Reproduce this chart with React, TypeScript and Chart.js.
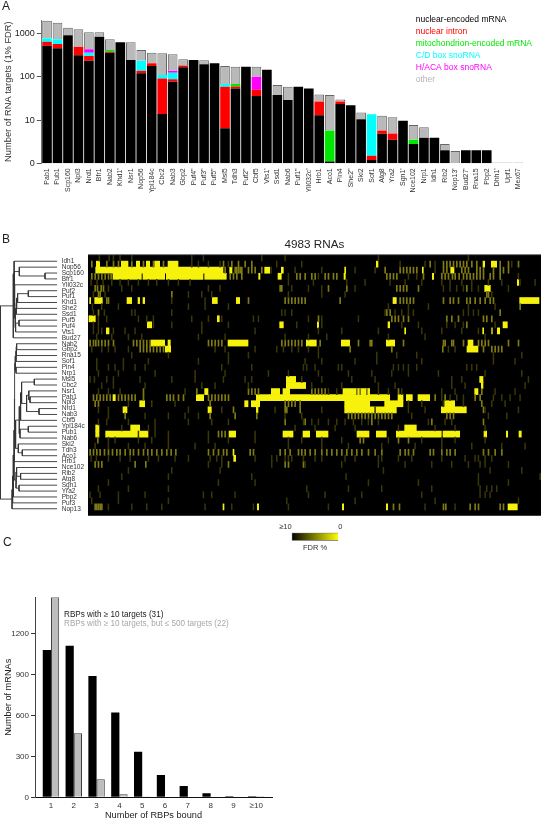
import React, { useEffect, useRef } from "react";
import { Chart, registerables } from "chart.js";

Chart.register(...registerables);

const SANS = "'Liberation Sans', Arial, sans-serif";

// ---------- Panel A ----------
const rbpNames = ["Pab1","Pub1","Scp160","Npl3","Nrd1","Bfr1","Nab2","Khd1'","Nsr1","Nop56","Ypl184c","Cbc2","Nab3","Gbp2","Puf4''","Puf3''","Puf5''","Msl5","Tdh3","Puf2''","Cbf5","Vts1'","Ssd1","Nab6","Puf1''","Yll032c'","Hrb1","Aco1","Pin4","She2''","Ski2","Sof1","Atg8","Yra2","Sgn1'","Nce102","Nrp1","Idh1","Rib2","Nop13'","Bud27'","Rna15","Pbp2","Dhh1'","Upf1","Mex67"];
const mrnaTargets = [526,458,913,316,237,851,363,630,246,121,178,13.8,77,166,246,195,205,6.5,54,172,36,145,38,29,59,54,13,1.1,23.6,22,10.4,1.2,4.8,3.5,9.7,2.8,3.9,3.9,2,null,2,2,2,null,null,null];
const intronTargets = [126,117,null,184,68,null,19,null,null,18,27,78,11,16,null,null,null,52.5,6,null,14,null,null,null,null,null,14,null,3.4,null,null,0.3,0.9,1.4,null,null,null,null,null,null,null,null,null,null,null,null];
const mitoTargets = [null,null,null,null,null,null,35,null,null,null,null,null,null,null,null,null,null,null,8,null,null,null,null,null,null,null,null,4.6,null,null,null,null,null,null,null,0.7,null,null,null,null,null,null,null,null,null,null];
const cdBoxTargets = [124,163,null,null,58,null,null,null,null,98,null,18,37,null,null,null,null,9.5,null,null,null,null,null,null,null,null,null,null,null,null,null,12.1,null,null,null,null,null,null,null,null,null,null,null,null,null,null];
const hacaBoxTargets = [null,null,null,null,70,null,null,null,null,null,null,null,14,null,null,null,null,null,null,null,50,null,null,null,null,null,null,null,null,null,null,null,null,null,null,null,null,null,null,null,null,null,null,null,null,null];
const otherTargets = [1220,1055,461,758,637,219,321,null,384,180,158,240,192,72,null,46,null,110,104,null,72,null,27,30,null,null,12,32.3,3,null,4.6,null,6.9,6.7,null,4.2,2.9,null,0.8,1.93,null,null,null,1.05,1.05,1.05];
const yTicksA = [1, 10, 100, 1000];
const legendNames = ["nuclear-encoded mRNA","nuclear intron","mitochondrion-encoded mRNA","C/D box snoRNA","H/ACA box snoRNA","other"];
const legendColors = ["#000000","#ff0000","#00e800","#00ffff","#ff00ff","#b4b4b4"];

// ---------- Panel B ----------
const heatRows = ["Idh1","Nop56","Scp160","Bfr1","Yll032c","Puf2","Puf1","Khd1","She2","Ssd1","Puf5","Puf4","Vts1","Bud27","Nab2","Gbp2","Rna15","Sof1","Pin4","Nrp1","Msl5","Cbc2","Nsr1","Pab1","Npl3","Nrd1","Nab3","Cbf5","Ypl184c","Pub1","Nab6","Ski2","Tdh3","Aco1","Hrb1","Nce102","Rib2","Atg8","Sgn1","Yra2","Pbp2","Puf3","Nop13"];
const binCount = 1359;

// [row, start, end, start, end, ...] in bins of the sorted RNA list
const brightRuns: number[][] = [
  [1,25,35,100,120,145,155,175,185,200,215,240,270,865,870,1185,1190,1210,1226],
  [2,23,405,425,432,530,545,580,586,770,773,1003,1006,1088,1098],
  [3,75,160,165,230,235,345,350,415,512,516,570,580,768,772,1033,1037],
  [4,1288,1292],
  [5,1190,1207],
  [7,5,8,20,43,117,131,150,155,165,170,373,388,445,455,915,925,1295,1353],
  [10,3,22,388,394],
  [11,178,191,575,586,688,692,900,905,1245,1258],
  [12,55,63,950,953,1184,1187,1211,1213,1228,1235],
  [14,190,230,240,247,420,480,655,685,760,785,895,920,1140,1155],
  [15,232,248,1137,1170],
  [20,595,623,1175,1185],
  [21,595,653,1180,1185],
  [22,350,360,550,575,585,605,765,845,1160,1170],
  [23,75,82,325,347,505,545,545,905,930,945,955,973,990,1025],
  [24,155,170,470,480,490,515,770,845,890,945,1070,1100],
  [25,105,117,360,370,505,510,770,925,1060,1135],
  [28,23,33,128,155,950,985],
  [29,23,33,53,180,423,443,585,615,645,665,685,720,807,843,865,895,925,1060,1065,1115,1188,1196,1255,1259,1293,1300],
  [32,435,438],
  [33,437,443],
  [41,405,408,508,512,763,767,895,899,1260,1288],
];

// [row, bin, bin, ...]
const midTicks: number[][] = [
  [1,10,55,75,90,130,165,195,225,405,430,450,470,490,1025,1065,1075,1085,1095,1105,1115,1125,1135,1150,1165,1235,1260,1290],
  [2,410,440,445,450,455,460,480,490,500,520,890,935,945,955,965,975,985,1065,1075,1120,1130,1140,1165,1175,1185,1215,1235,1245,1260],
  [3,10,20,30,40,50,60,68,425,435,445,460,625,635,650,670,680,710,720,735,745,895,905,915,925,1005,1060,1070,1080,1092,1100,1112,1125,1135,1145,1155,1165,1175,1185,1205,1215,1235],
  [5,20,27,38,45,575,580,720,775,925,935,945,955,990,1135],
  [6,30,35,250,1195,1200],
  [7,55,60,480,590,600,610,620,630,640,650,755,935,945,955,965,975,1065,1085,1095,1110,1135,1145,1160,1175,1190,1205,1215],
  [8,1295],
  [9,30,895,905,1235],
  [10,690,910,920,930,945,960,1075,1090,1110,1185,1195,1210],
  [11,1135],
  [14,5,15,22,30,40,50,60,75,135,145,155,165,175,185,360,370,380,390,400,580,590,600,610,620,630,640,695,810,845,850,945,1065,1070,1090,1095,1125,1170,1180,1190,1200,1260,1290],
  [15,155,165,175,185,195,205,215,225,785,910,1063,1185,1210,1220,1230,1240],
  [22,165,325,480,490,500,510,670,680,690,700,710,805,815,835,930,1180],
  [23,15,25,35,45,55,65,90,100,110,120,130,140,165,235,245,255,270,285,360,370,380,390,400,410,420,1040,1070,1160,1175],
  [24,20,30,365,590,600,610,620,635,1180],
  [25,435,595,635,590,1185],
  [26,110,365,440,505,780,790,800,810,820,830,840,850,860,870,880,890,900,910,1075,1085,1095],
  [27,590,650,850,1030,1185],
  [29,390,400,410],
  [30,28,815,825,930,960],
  [32,5,15,25,35,48,60,72,85,95,110,125,135,150,165,178,190,205,220,235,248,262,360,375,390,405,415,485,495,575,590,605,630,640,650,665,680,700,715,730,745,760,775,790,805,820,840,860,880,935,950,960,975,1025,1035,1060,1075,1085,1100,1185,1200,1220,1240],
  [34,20,30,40,140,172,420,590,600,645],
  [41,20,25,30,35,40,915,933,1065,1072,1145,1160,1170,1235,1245],
];

const dimTicks: number[][] = [
  [0,33,62,75,95,130,310,345,520,590,870,1140],
  [1,310,330,360,395,420,1010,1040,1270,565,640,935],
  [2,548,620,700,800,860,1040],
  [3,600,690,960,985,1290],
  [4,8,26,44,70,95,120,150,180,205,240,270,305,600,675,775,830,905,950,1000,1060,1085,1120,1150,1200,1240,1295,1340],
  [5,60,100,130,360,395,610,660,700,800,1065,1085,1105,1125,1150,1170,1260],
  [6,15,50,300,340,370,600,700,770,1210],
  [7,250,350],
  [8,12,40,90,300,350,420,900,960,1020,1140,1220],
  [9,15,48,130,140,250,580,590,610,890,920,940,960,975,1125,1140,1155,1170],
  [10,30,55,150,175,195,310,360,400,495,510,660,700,810],
  [11,15,30,195,250,340,420,625,700,940,990,1075,1100,1125,1220],
  [12,15,30,40,75,110,140,340,500,690,760,870,1000,1060,1120,1170],
  [13,25,70,120,160,330,410,590,660,715,900,1010,1190],
  [15,10,40,60,80,120,380,410,500,565,585,610,630,660,690,1080,1100],
  [16,130,240,420,480,690,865,925,985,1215,1300],
  [17,25,105,180,330,420,650,700,800,865,1000,1215,1280],
  [18,25,60,80,105,140,170,400,490,645,655,680,750,760,915,930,945,960,985,1135,1150,1165],
  [19,30,90,200,320,410,540,600,690,780,850,910,960,1050,1190,1300],
  [20,5,18,55,75,155,250,320,405,470,490,640,700,790,860,1090,1120,1320],
  [21,40,75,170,340,380,480,670,760,870,920,1090,1130,1310],
  [22,30,60,95,290,720,745,870,900,940,1060,1100,1220,1280],
  [23,1060,1085,1105,1125,1215,1240,1265,1295],
  [24,120,190,260,960,1000,1065,1125,1210,1250],
  [25,30,60,300,400,560,700,860,960,1010,1190,1290],
  [26,60,170,240,290,330,590,640,970,1200,1255],
  [27,30,55,120,200,300,370,420,645,670,690,720,745,770,795,820,840,870,1020,1070,1090],
  [28,100,180,200,620,680,740,800,930,1040,1100,1190],
  [29,150,200,240,360,500],
  [30,60,80,150,190,240,360,420,500,600,640,700,760,900,1000,1060,1100,1190],
  [31,20,60,120,170,240,320,380,600,700,780,880,980,1060,1150,1240,1310],
  [33,8,24,60,95,125,180,210,260,300,365,385,400,500,550,565,590,600,610,645,680,700,770,800,870,880,930,970,1060,1130,1160,1170,1190,1210],
  [34,360,400,550,650,760,870,950,1030,1090,1140,1175,1190,1260],
  [35,120,250,395,885,1205,1300],
  [36,100,240,490,773,1170,1355],
  [37,60,390,500,840,990,1170,1260],
  [38,30,120,240,655,780,880,1030,1175,1195,1210,1225],
  [39,5,35,90,170,345,370,440,660,710,820,1000,1175,1190,1205],
  [40,10,90,240,595,800,1040,1290],
  [41,60,130,175,220,350,430,495,600,720,1010,1100],
];

const levelColors = ["#3a3707", "#7f7a12", "#f6f20c"];

// Dendrogram: a child is a row name or the index of an earlier merge
const dendroLeft: (string | number)[] = ["Scp160","Nop56","Puf2",2,"Puf5",4,3,6,7,"Yll032c",1,"Idh1",11,"Nab2",13,14,"Pin4",15,"Msl5","Pab1","Nsr1","Nrd1",20,18,23,"Ypl184c",25,"Tdh3",24,"Ski2",28,30,"Hrb1","Rib2","Nce102","Sgn1",34,32,37,38,39,12];
const dendroRight: (string | number)[] = ["Bfr1",0,"Puf1","Khd1","Puf4","Vts1","She2","Ssd1",5,8,9,10,"Bud27","Gbp2","Rna15","Sof1","Nrp1",16,"Cbc2","Npl3",19,"Nab3",21,22,"Cbf5","Pub1","Nab6","Aco1",26,27,29,17,31,"Atg8",33,"Yra2",35,36,"Pbp2","Puf3","Nop13",40];
const dendroHeight = [12.3,38,29,39.7,38.3,41.7,40.7,41,42.3,42.7,43,43.3,44,40.7,41,41.3,41.3,42,23,27.3,28.5,18.3,30.7,35.7,36.7,29,37.3,35,38,39,41.7,42.7,43,36.7,40.7,38.3,41.3,43.3,44,44.7,45.3,57];

const fdrScale = ["≥10", "0"];

// ---------- Panel C ----------
const boundCounts = [1, 2, 3, 4, 5, 6, 7, 8, 9, 10];
const boundLabels = ["1","2","3","4","5","6","7","8","9","≥10"];
const allRbps = [1082,1114,891,622,335,164,83,30,8,8];
const fewerTargetRbps = [1470,470,132,22,5,4,4,0,0,8];
const yTicksC = [0, 300, 600, 900, 1200];

function runsToBars(list: number[][], width: number | null) {
  const out: { x: number[]; y: string }[] = [];
  for (const [row, ...vals] of list) {
    if (width === null) {
      for (let i = 0; i < vals.length; i += 2) out.push({ x: [vals[i], vals[i + 1]], y: heatRows[row] });
    } else {
      for (const v of vals) out.push({ x: [v, v + width], y: heatRows[row] });
    }
  }
  return out;
}

function dendroPoints() {
  const rowOf = (name: string) => heatRows.indexOf(name);
  const nodes: { h: number; y: number }[] = [];
  const pts: { x: number; y: number }[] = [];
  const child = (c: string | number) => (typeof c === "string" ? { h: 0, y: rowOf(c) } : nodes[c]);
  dendroHeight.forEach((h, i) => {
    const a = child(dendroLeft[i]);
    const b = child(dendroRight[i]);
    pts.push({ x: a.h, y: a.y }, { x: h, y: a.y }, { x: h, y: b.y }, { x: b.h, y: b.y }, { x: NaN, y: NaN });
    nodes.push({ h, y: (a.y + b.y) / 2 });
  });
  return pts;
}

function textLegend(color: string[], text: string[], size: number, padding: number) {
  return {
    display: true,
    position: "chartArea" as const,
    align: "start" as const,
    labels: {
      boxWidth: 0,
      boxHeight: 0,
      padding,
      font: { family: SANS, size },
      generateLabels: () =>
        text.map((t, i) => ({ text: t, fontColor: color[i], fillStyle: "transparent", strokeStyle: "transparent", lineWidth: 0, hidden: false, datasetIndex: i })),
    },
  };
}

function legendAt(left: number, top: number, width: number, height: number) {
  return {
    id: "legendAt",
    afterLayout(c: any) {
      const l = c.legend;
      l.left = left;
      l.top = top;
      l.width = width;
      l.height = height;
      l.right = left + width;
      l.bottom = top + height;
    },
  };
}

const canvasStyle = (left: number, top: number): React.CSSProperties => ({ position: "absolute", left, top, display: "block" });

function ChartCanvas({ left, top, width, height, make }: { left: number; top: number; width: number; height: number; make: (c: HTMLCanvasElement) => Chart }) {
  const ref = useRef<HTMLCanvasElement>(null);
  useEffect(() => {
    const chart = make(ref.current!);
    return () => chart.destroy();
  }, []);
  return <canvas ref={ref} width={width} height={height} style={{ ...canvasStyle(left, top), width, height }} />;
}

const segment = (label: string, data: (number | null)[], color: string) => ({
  label,
  data,
  backgroundColor: color,
  borderColor: label === "other" ? "#666666" : color,
  borderWidth: label === "other" ? 1 : 0,
  barPercentage: 0.92,
  categoryPercentage: 1,
});

function makeA(canvas: HTMLCanvasElement) {
  return new Chart(canvas, {
    type: "bar",
    data: {
      labels: rbpNames,
      datasets: [
        segment(legendNames[0], mrnaTargets, legendColors[0]),
        segment(legendNames[1], intronTargets, legendColors[1]),
        segment(legendNames[2], mitoTargets, legendColors[2]),
        segment(legendNames[3], cdBoxTargets, legendColors[3]),
        segment(legendNames[4], hacaBoxTargets, legendColors[4]),
        segment(legendNames[5], otherTargets, "#b9b9b9"),
      ],
    },
    options: {
      responsive: false,
      animation: false,
      events: [],
      layout: { padding: { top: 20, right: 17.6, left: 0, bottom: 0 } },
      plugins: { legend: textLegend(legendColors, legendNames, 8.5, 3.5) as any, tooltip: { enabled: false } },
      scales: {
        x: {
          stacked: true,
          grid: { display: false, drawTicks: false },
          border: { display: false },
          afterFit: (s: any) => { s.height = 36.7; },
          ticks: { autoSkip: false, minRotation: 90, maxRotation: 90, padding: 5, color: "#333", font: { family: SANS, size: 7 } },
        },
        y: {
          type: "logarithmic",
          stacked: true,
          min: 1,
          max: 2065,
          afterFit: (s: any) => { s.width = 41.8; },
          afterBuildTicks: (s: any) => { s.ticks = yTicksA.map((value) => ({ value })); },
          grid: { drawOnChartArea: false, tickLength: 5, color: "#555" },
          border: { display: true, color: "#777" },
          title: { display: true, text: "Number of RNA targets (1% FDR)", color: "#333", font: { family: SANS, size: 9.3 }, padding: { top: 2.5, bottom: 0 } },
          ticks: { padding: 2, color: "#222", font: { family: SANS, size: 9 }, callback: (v: any) => (v === 1 ? "0" : String(v)) },
        },
      },
    } as any,
    plugins: [legendAt(408, 12, 130, 80)],
  });
}

function makeDendro(canvas: HTMLCanvasElement) {
  return new Chart(canvas, {
    type: "scatter",
    data: { datasets: [{ data: dendroPoints(), showLine: true, spanGaps: false, pointRadius: 0, borderColor: "#333", borderWidth: 0.9, tension: 0 }] },
    options: {
      responsive: false,
      animation: false,
      events: [],
      layout: { padding: { top: 5.2, bottom: 4.7, left: 0, right: 0 } },
      plugins: { legend: { display: false }, tooltip: { enabled: false } },
      scales: {
        x: { type: "linear", display: false, reverse: true, min: 0, max: 57.3 },
        y: {
          type: "linear",
          position: "right",
          reverse: true,
          min: -0.5,
          max: 42.5,
          afterFit: (s: any) => { s.width = 30.7; },
          afterBuildTicks: (s: any) => { s.ticks = heatRows.map((_, value) => ({ value })); },
          grid: { display: false, drawTicks: false },
          border: { display: false },
          ticks: { autoSkip: false, padding: 4.4, color: "#333", font: { family: SANS, size: 6.5 }, callback: (v: any) => heatRows[v] },
        },
      },
    } as any,
  });
}

function makeHeat(canvas: HTMLCanvasElement) {
  const level = (data: any[], color: string) => ({ data, backgroundColor: color, borderWidth: 0, barPercentage: 1, categoryPercentage: 1, grouped: false });
  const frame = {
    id: "heatFrame",
    beforeDatasetsDraw(c: any) {
      const { left, right, top, bottom } = c.chartArea;
      const g = c.ctx;
      g.save();
      g.fillStyle = "#000";
      g.fillRect(left, top, right - left, bottom - top);
      g.fillStyle = "#777";
      g.fillRect(left, top - 1, right - left, 1);
      g.fillRect(left, bottom - 0.5, right - left, 1);
      g.restore();
    },
  };
  return new Chart(canvas, {
    type: "bar",
    data: {
      labels: heatRows,
      datasets: [
        level(runsToBars(dimTicks, 2.5), levelColors[0]),
        level(runsToBars(midTicks, 3), levelColors[1]),
        level(runsToBars(brightRuns, null), levelColors[2]),
      ],
    },
    options: {
      indexAxis: "y",
      responsive: false,
      animation: false,
      events: [],
      layout: { padding: { top: 0, bottom: 0, left: 0, right: 0 } },
      plugins: {
        legend: { display: false },
        tooltip: { enabled: false },
        title: { display: true, text: "4983 RNAs", color: "#222", font: { family: SANS, size: 11.7, weight: "normal" }, padding: { top: 2, bottom: 3 } },
      },
      scales: {
        x: { type: "linear", display: false, min: 0, max: binCount },
        y: { type: "category", display: false },
      },
    } as any,
    plugins: [frame],
  });
}

function makeFdr(canvas: HTMLCanvasElement) {
  return new Chart(canvas, {
    type: "bar",
    data: {
      labels: ["FDR %"],
      datasets: [
        {
          data: [{ x: [0, 10], y: "FDR %" }],
          backgroundColor: (ctx: any) => {
            const area = ctx.chart.chartArea;
            if (!area) return "#000";
            const g = ctx.chart.ctx.createLinearGradient(area.left, 0, area.right, 0);
            g.addColorStop(0, "#000000");
            g.addColorStop(1, "#ffff00");
            return g;
          },
          borderColor: "#666",
          borderWidth: 1,
          barPercentage: 1,
          categoryPercentage: 1,
          xAxisID: "x",
        },
      ],
    } as any,
    options: {
      indexAxis: "y",
      responsive: false,
      animation: false,
      events: [],
      layout: { padding: { top: 0, bottom: 0, left: 21.7, right: 51.7 } },
      plugins: { legend: { display: false }, tooltip: { enabled: false } },
      scales: {
        y: { type: "category", display: false },
        x: {
          type: "linear",
          position: "top",
          reverse: true,
          min: 0,
          max: 10,
          afterFit: (s: any) => { s.height = 10.7; },
          afterBuildTicks: (s: any) => { s.ticks = [10, 0].map((value) => ({ value })); },
          grid: { display: false, drawTicks: false },
          border: { display: false },
          ticks: { align: "inner", padding: 1, color: "#333", font: { family: SANS, size: 7.5 }, callback: (v: any) => (v === 10 ? fdrScale[0] : fdrScale[1]) },
        },
        x2: {
          type: "linear",
          axis: "x",
          position: "bottom",
          min: 0,
          max: 10,
          afterFit: (s: any) => { s.height = 11.3; },
          grid: { display: false, drawTicks: false },
          border: { display: false },
          ticks: { display: false },
          title: { display: true, text: "FDR %", color: "#333", font: { family: SANS, size: 7.5 }, padding: { top: 2, bottom: 0 } },
        },
      },
    } as any,
  });
}

function makeC(canvas: HTMLCanvasElement) {
  const names = ["RBPs with ≥ 10 targets (31)", "RBPs with ≥ 10 targets, but ≤ 500 targets (22)"];
  return new Chart(canvas, {
    type: "bar",
    data: {
      datasets: [
        { label: names[0], data: boundCounts.map((x, i) => ({ x, y: allRbps[i] })), backgroundColor: "#000", borderColor: "#000", borderWidth: 0, barPercentage: 1, categoryPercentage: 0.72 },
        { label: names[1], data: boundCounts.map((x, i) => ({ x, y: fewerTargetRbps[i] })), backgroundColor: "#bdbdbd", borderColor: "#3c3c3c", borderWidth: 1, barPercentage: 1, categoryPercentage: 0.72 },
      ],
    },
    options: {
      responsive: false,
      animation: false,
      events: [],
      layout: { padding: { top: 7.3, right: 28, left: 0, bottom: 0 } },
      plugins: { legend: textLegend(["#222222", "#a8a8a8"], names, 8.15, 1) as any, tooltip: { enabled: false } },
      scales: {
        x: {
          type: "linear",
          offset: false,
          min: 0.3,
          max: 10.69,
          afterFit: (s: any) => { s.height = 23.7; },
          afterBuildTicks: (s: any) => { s.ticks = boundCounts.map((value) => ({ value })); },
          grid: { display: false, drawTicks: false, offset: false },
          border: { display: true, color: "#111", width: 1 },
          title: { display: true, text: "Number of RBPs bound", color: "#222", font: { family: SANS, size: 9.2 }, padding: { top: 4, bottom: 0 } },
          ticks: { autoSkip: false, maxRotation: 0, padding: 4, color: "#333", font: { family: SANS, size: 8 }, callback: (v: any) => boundLabels[v - 1] },
        },
        y: {
          min: 0,
          max: 1469,
          afterFit: (s: any) => { s.width = 35; },
          afterBuildTicks: (s: any) => { s.ticks = yTicksC.map((value) => ({ value })); },
          grid: { drawOnChartArea: false, tickLength: 4, color: "#333" },
          border: { display: true, color: "#444" },
          title: { display: true, text: "Number of mRNAs", color: "#222", font: { family: SANS, size: 9.2 }, padding: { top: 2.5, bottom: 0 } },
          ticks: { padding: 2, color: "#333", font: { family: SANS, size: 8 }, callback: (v: any) => String(v) },
        },
      },
    } as any,
    plugins: [legendAt(59, 20, 210, 30)],
  });
}

const letter = (text: string, left: number, top: number) => (
  <div style={{ position: "absolute", left, top, font: `12px ${SANS}`, color: "#222", lineHeight: "12px" }}>{text}</div>
);

export default function App() {
  return (
    <div style={{ position: "absolute", left: 0, top: 0, width: 541, height: 821, overflow: "hidden", background: "#fff", filter: "blur(0.35px)" }}>
      <ChartCanvas left={0} top={0} width={541} height={200} make={makeA} />
      <ChartCanvas left={0} top={250} width={88} height={270} make={makeDendro} />
      <ChartCanvas left={88} top={236} width={453} height={280} make={makeHeat} />
      <ChartCanvas left={270} top={522} width={120} height={30} make={makeFdr} />
      <ChartCanvas left={0} top={590} width={300} height={231} make={makeC} />
      {letter("A", 2, 0)}
      {letter("B", 2, 233)}
      {letter("C", 3, 536)}
    </div>
  );
}
